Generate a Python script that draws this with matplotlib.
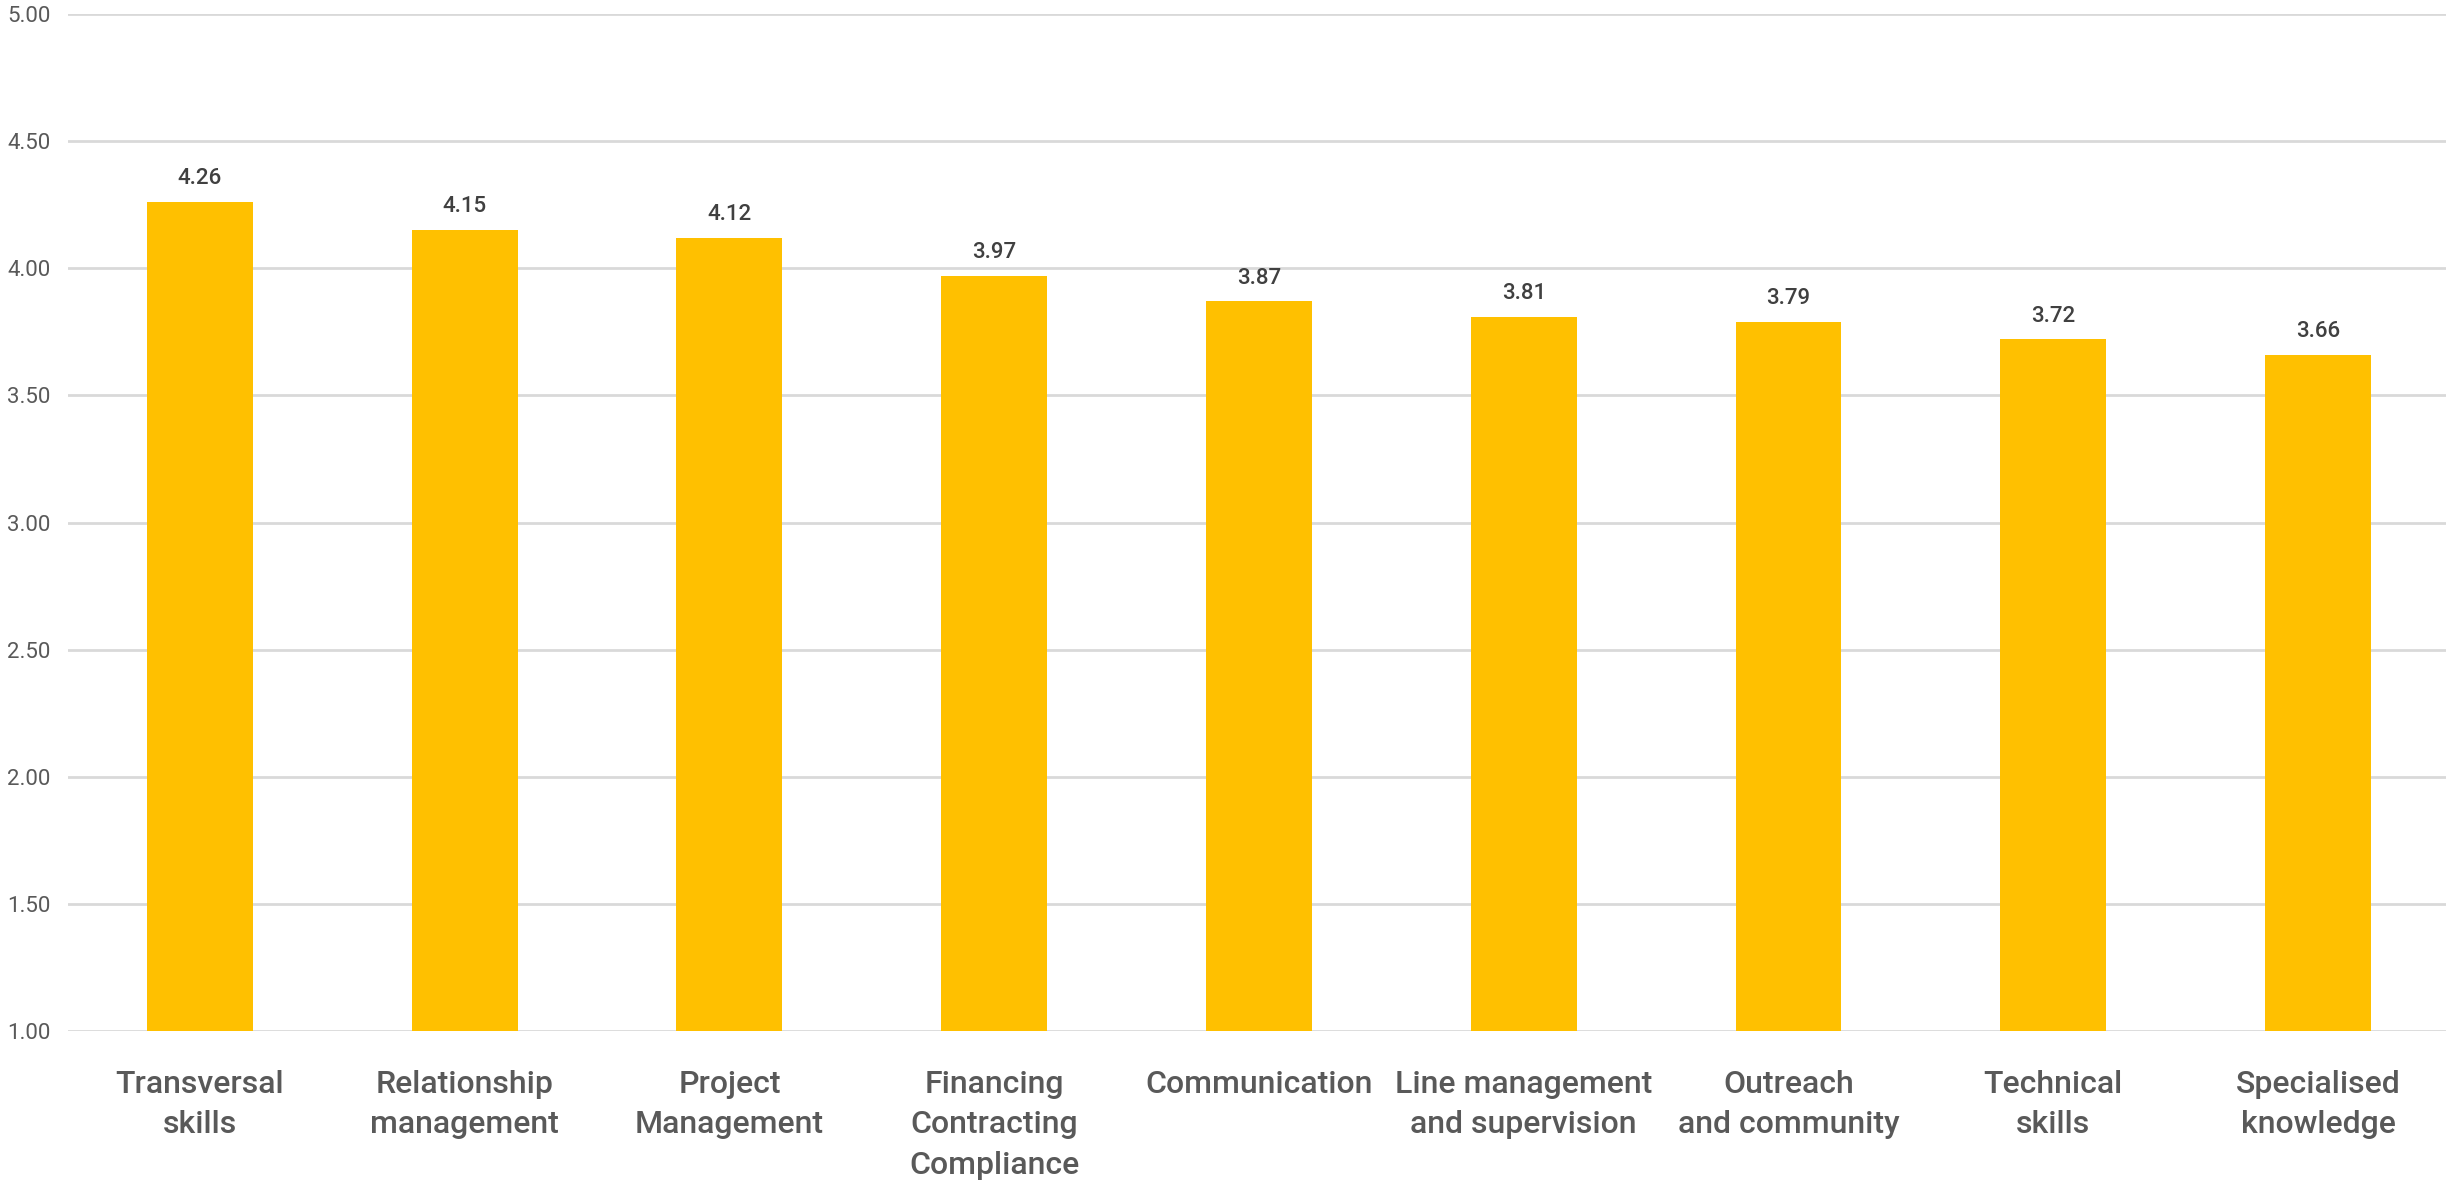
import matplotlib
matplotlib.use("Agg")
import matplotlib.pyplot as plt

categories = ["Transversal\nskills", "Relationship\nmanagement", "Project\nManagement",
              "Financing\nContracting\nCompliance", "Communication", "Line management\nand supervision",
              "Outreach\nand community", "Technical\nskills", "Specialised\nknowledge"]
values = [4.26, 4.15, 4.12, 3.97, 3.87, 3.81, 3.79, 3.72, 3.66]
yticks = [1.0, 1.5, 2.0, 2.5, 3.0, 3.5, 4.0, 4.5, 5.0]

plt.rcParams['font.family'] = ['Roboto', 'DejaVu Sans']

fig = plt.figure(figsize=(24.46, 11.89), dpi=100)
ax = fig.add_axes([0.0276, 0.1329, 0.9742, 0.8553])

x = list(range(len(categories)))
bars = ax.bar(x, [v - 1.0 for v in values], bottom=1.0, width=0.40, color="#FFC000", zorder=3)
for xi, v in zip(x, values):
    ax.text(xi, v + 0.05, f"{v:.2f}", ha="center", va="bottom", fontsize=16,
            color="#404040", fontweight="medium")

ax.set_xlim(-0.5, len(categories) - 0.5)
ax.set_ylim(1.0, 5.0)
ax.set_yticks(yticks)
ax.set_yticklabels([f"{t:.2f}" for t in yticks])
ax.set_xticks(x)
ax.set_xticklabels(categories, fontsize=23, color="#595959", linespacing=1.5,
                   fontweight="medium")
ax.tick_params(axis="x", length=0, pad=28)
ax.tick_params(axis="y", length=0, pad=12, labelsize=16, labelcolor="#595959")
ax.grid(axis="y", color="#D9D9D9", linewidth=2, zorder=0)
for s in ax.spines.values():
    s.set_visible(False)

fig.savefig("out.png", dpi=100)
